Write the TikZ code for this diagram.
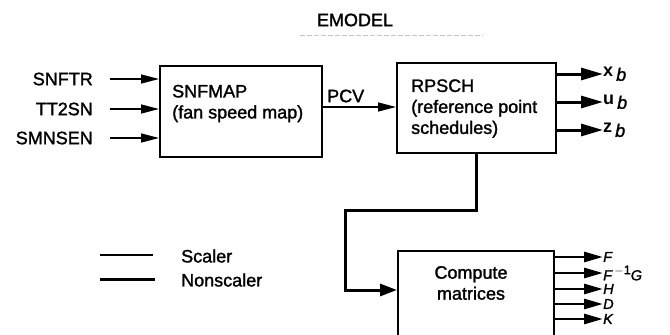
\documentclass[tikz,border=0pt]{standalone}
\usepackage{fontspec}
\setmainfont{Liberation Sans}[UprightFeatures={FakeBold=1.5},ItalicFeatures={FakeBold=1.5}]
\usetikzlibrary{arrows.meta,calc}

\begin{document}
\begin{tikzpicture}[x=1pt,y=-1pt,
  box/.style={draw,line width=2.3pt,inner sep=0pt,anchor=north west},
  txt/.style={font=\fontsize{18}{21}\selectfont,inner sep=0pt},
  mlbl/.style={inner sep=0pt,anchor=west,font=\fontsize{14.5}{14.5}\selectfont\itshape},
  scaler/.style={line width=1.4pt},
  nonscaler/.style={line width=3pt},
  thinarrow/.style={scaler,-{Triangle[length=18pt,width=9pt]}},
  thickarrow/.style={nonscaler,-{Triangle[length=22pt,width=12pt]}},
  outarrow/.style={line width=2.8pt,-{Triangle[length=19pt,width=10pt]}},
]
\useasboundingbox (0,0) rectangle (670,335);
\clip (0,0) rectangle (670,335);

% title
\node[txt] (title) at (355,20) {EMODEL};
\coordinate (rule1) at (300,35);
\coordinate (rule2) at (483,35);
\draw[gray!45,line width=0.8pt,dash pattern=on 5pt off 2pt] (rule1) -- (rule2);

% blocks
\node[box,minimum width=162pt,minimum height=91pt] (snfmap) at (159,65) {};
\node[txt,anchor=west,align=left] (snfmaptxt) at (172,103.5) {SNFMAP\\(fan speed map)};

\node[box,minimum width=159pt,minimum height=90pt] (rpsch) at (396,62) {};
\node[txt,anchor=west,align=left] (rpschtxt) at (411,108.5) {RPSCH\\(reference point\\schedules)};

\node[box,minimum width=156pt,minimum height=100pt] (compute) at (397,250) {};
\node[txt,align=center] (computetxt) at (471,283) {Compute\\matrices};

% inputs
\node[txt,anchor=east] (in1) at (93,79) {SNFTR};
\node[txt,anchor=east] (in2) at (93,109) {TT2SN};
\node[txt,anchor=east] (in3) at (93,138) {SMNSEN};
\coordinate (s1) at (110,79);
\coordinate (s2) at (110,109);
\coordinate (s3) at (110,138);
\draw[thinarrow] (s1) -- (s1 -| snfmap.west);
\draw[thinarrow] (s2) -- (s2 -| snfmap.west);
\draw[thinarrow] (s3) -- (s3 -| snfmap.west);

% PCV
\coordinate (pcv) at (snfmap.east |- 0,107);
\draw[thinarrow] (pcv) -- (pcv -| rpsch.west);
\node[txt,anchor=west] (pcvlbl) at (327,96) {PCV};

% RPSCH outputs
\node[txt,anchor=west] (xb) at (603,74) {\textbf{x}\,\raisebox{-0.45ex}{\textit{b}}};
\node[txt,anchor=west] (ub) at (603,102) {\textbf{u}\,\raisebox{-0.45ex}{\textit{b}}};
\node[txt,anchor=west] (zb) at (603,130) {\textbf{z}\,\raisebox{-0.45ex}{\textit{b}}};
\draw[thickarrow] (rpsch.east |- xb) -- (xb.west);
\draw[thickarrow] (rpsch.east |- ub) -- (ub.west);
\draw[thickarrow] (rpsch.east |- zb) -- (zb.west);

% RPSCH to compute
\coordinate (bend) at (345,210);
\draw[nonscaler,-{Triangle[length=17pt,width=12pt]}]
  (rpsch.south) |- (bend) |- ($(compute.north west)+(0,40)$);

% compute outputs
\node[mlbl] (oF) at (603,257) {F};
\node[mlbl] (oFG) at (603,273) {F\,\raisebox{0.8ex}{\upshape\fontsize{12.5}{12.5}\selectfont $-$1}G};
\node[mlbl] (oH) at (603,289) {H};
\node[mlbl] (oD) at (603,304) {D};
\node[mlbl] (oK) at (603,319) {K};
\draw[outarrow] (compute.east |- oF) -- (oF.west);
\draw[outarrow] (compute.east |- oFG) -- (oFG.west);
\draw[outarrow] (compute.east |- oH) -- (oH.west);
\draw[outarrow] (compute.east |- oD) -- (oD.west);
\draw[outarrow] (compute.east |- oK) -- (oK.west);

% legend
\coordinate (l1a) at (100,255);
\coordinate (l1b) at (153,255);
\coordinate (l2a) at (100,279);
\coordinate (l2b) at (155,279);
\draw[scaler] (l1a) -- (l1b);
\draw[nonscaler] (l2a) -- (l2b);
\node[txt,anchor=west] (leg1) at (181,256) {Scaler};
\node[txt,anchor=west] (leg2) at (181,280) {Nonscaler};
\end{tikzpicture}
\end{document}
